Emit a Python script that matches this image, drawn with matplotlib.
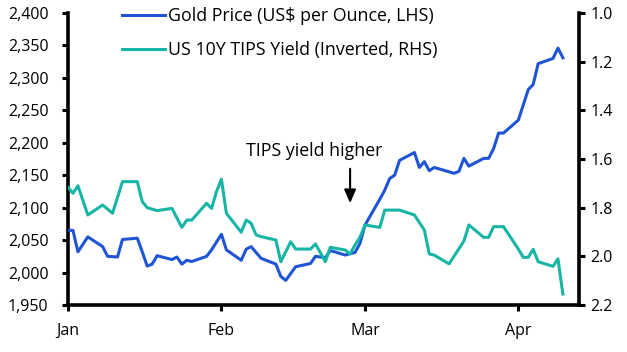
import numpy as np
import pandas as pd
import matplotlib
matplotlib.use("Agg")
import matplotlib.pyplot as plt

plt.rcParams['font.family'] = ['Open Sans', 'DejaVu Sans']

# Gold price (US$ per ounce)
gold_dates = ["2024-01-01", "2024-01-02", "2024-01-03", "2024-01-05", "2024-01-08",
              "2024-01-09", "2024-01-11", "2024-01-12", "2024-01-15", "2024-01-16",
              "2024-01-17", "2024-01-18", "2024-01-19", "2024-01-22", "2024-01-23",
              "2024-01-24", "2024-01-25", "2024-01-26", "2024-01-29", "2024-01-30",
              "2024-02-01", "2024-02-02", "2024-02-05", "2024-02-06", "2024-02-07",
              "2024-02-09", "2024-02-12", "2024-02-13", "2024-02-14", "2024-02-16",
              "2024-02-19", "2024-02-20", "2024-02-22", "2024-02-23", "2024-02-26",
              "2024-02-28", "2024-02-29", "2024-03-01", "2024-03-04", "2024-03-05",
              "2024-03-06", "2024-03-07", "2024-03-08", "2024-03-11", "2024-03-12",
              "2024-03-13", "2024-03-14", "2024-03-15", "2024-03-19", "2024-03-20",
              "2024-03-21", "2024-03-22", "2024-03-25", "2024-03-26", "2024-03-27",
              "2024-03-28", "2024-03-29", "2024-04-01", "2024-04-03", "2024-04-04",
              "2024-04-05", "2024-04-08", "2024-04-09", "2024-04-10"]
gold_values = [2065, 2065, 2032, 2055, 2040,
               2025, 2024, 2051, 2053, 2032,
               2010, 2013, 2026, 2020, 2024,
               2013, 2019, 2017, 2025, 2035,
               2059, 2035, 2019, 2036, 2040,
               2022, 2013, 1994, 1988, 2009,
               2014, 2025, 2023, 2034, 2027,
               2031, 2045, 2073, 2113, 2127,
               2145, 2150, 2173, 2185, 2162,
               2171, 2157, 2162, 2153, 2156,
               2176, 2164, 2176, 2176, 2191,
               2215, 2215, 2235, 2282, 2290,
               2322, 2330, 2346, 2331]

# US 10Y TIPS yield (%)
tips_dates = ["2024-01-01", "2024-01-02", "2024-01-03", "2024-01-05", "2024-01-08",
              "2024-01-10", "2024-01-12", "2024-01-15", "2024-01-16", "2024-01-17",
              "2024-01-19", "2024-01-22", "2024-01-24", "2024-01-25", "2024-01-26",
              "2024-01-29", "2024-01-30", "2024-01-31", "2024-02-01", "2024-02-02",
              "2024-02-05", "2024-02-06", "2024-02-07", "2024-02-08", "2024-02-09",
              "2024-02-12", "2024-02-13", "2024-02-15", "2024-02-16", "2024-02-19",
              "2024-02-20", "2024-02-22", "2024-02-23", "2024-02-26", "2024-02-27",
              "2024-02-28", "2024-02-29", "2024-03-01", "2024-03-04", "2024-03-05",
              "2024-03-08", "2024-03-11", "2024-03-13", "2024-03-14", "2024-03-15",
              "2024-03-18", "2024-03-21", "2024-03-22", "2024-03-25", "2024-03-26",
              "2024-03-27", "2024-03-29", "2024-04-01", "2024-04-02", "2024-04-03",
              "2024-04-04", "2024-04-05", "2024-04-08", "2024-04-09", "2024-04-10"]
tips_values = [1.716, 1.741, 1.710, 1.830, 1.789,
               1.823, 1.693, 1.693, 1.775, 1.800,
               1.812, 1.803, 1.881, 1.851, 1.851,
               1.782, 1.803, 1.734, 1.683, 1.823,
               1.901, 1.851, 1.864, 1.912, 1.919,
               1.933, 2.022, 1.940, 1.970, 1.970,
               1.949, 2.022, 1.963, 1.974, 1.990,
               1.953, 1.921, 1.871, 1.881, 1.810,
               1.810, 1.830, 1.892, 1.990, 1.995,
               2.031, 1.937, 1.871, 1.922, 1.922,
               1.878, 1.878, 1.970, 2.004, 2.004,
               1.971, 2.022, 2.041, 2.010, 2.155]

month_ticks = ["2024-01-01", "2024-02-01", "2024-03-01", "2024-04-01"]
month_labels = ["Jan", "Feb", "Mar", "Apr"]

blue = "#1f55d4"
teal = "#17b5a5"
fs = 11.5      # tick labels
fs_txt = 12.8  # legend and annotation

fig = plt.figure(figsize=(6.27, 3.52), dpi=100)
ax = fig.add_axes([0.1085, 0.1335, 0.8149, 0.8295])
ax2 = ax.twinx()

g_line, = ax.plot(pd.to_datetime(gold_dates), gold_values, color=blue, lw=2.2,
                  label="Gold Price (US$ per Ounce, LHS)", zorder=3)
t_line, = ax2.plot(pd.to_datetime(tips_dates), tips_values, color=teal, lw=2.2,
                   label="US 10Y TIPS Yield (Inverted, RHS)", zorder=2)

ax.set_xlim(pd.Timestamp("2024-01-01"), pd.Timestamp("2024-04-13 06:00"))
ax.set_ylim(1950, 2400)
ax.set_yticks(np.arange(1950, 2401, 50))
ax.yaxis.set_major_formatter(matplotlib.ticker.FuncFormatter(lambda v, p: f"{v:,.0f}"))
ax2.set_ylim(2.2, 1.0)
ax2.set_yticks(np.arange(1.0, 2.21, 0.2))
ax2.yaxis.set_major_formatter(matplotlib.ticker.FormatStrFormatter("%.1f"))

ax.set_xticks(pd.to_datetime(month_ticks))
ax.set_xticklabels(month_labels)

for a in (ax, ax2):
    a.spines["top"].set_visible(False)
    for s in ("left", "right", "bottom"):
        a.spines[s].set_linewidth(2.6)
ax.spines["right"].set_visible(False)
ax2.spines["left"].set_visible(False)
ax2.spines["bottom"].set_visible(False)

ax.tick_params(axis="y", direction="out", length=4, width=2.2, pad=10, labelsize=fs)
ax.tick_params(axis="x", direction="out", length=4, width=2.2, pad=9, labelsize=fs)
ax2.tick_params(axis="y", direction="out", length=4, width=2.2, pad=4, labelsize=fs)

ax.legend(handles=[g_line, t_line], loc="upper left", bbox_to_anchor=(0.075, 1.075),
          frameon=False, fontsize=fs_txt, handlelength=2.4, handletextpad=0.15,
          labelspacing=0.9)

ax.text(pd.Timestamp("2024-02-19 16:00"), 2187, "TIPS yield higher", fontsize=fs_txt,
        ha="center", va="center")
ax.annotate("", xy=(pd.Timestamp("2024-02-27"), 2107),
            xytext=(pd.Timestamp("2024-02-27"), 2160),
            arrowprops=dict(arrowstyle="-|>,head_width=0.35,head_length=0.8",
                            color="black", lw=1.5, shrinkA=0, shrinkB=0))

fig.savefig("out.png", dpi=100)
